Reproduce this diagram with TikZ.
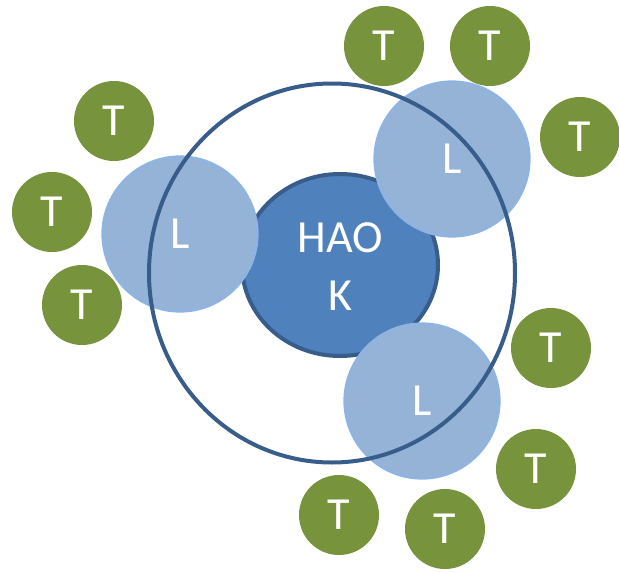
\documentclass[tikz,border=0pt]{standalone}
\usepackage{fontspec}
\setmainfont{Carlito}
\usetikzlibrary{shapes.geometric}
\definecolor{tgreen}{HTML}{77933C}
\definecolor{lfill}{HTML}{95B3D7}
\definecolor{ldraw}{HTML}{8DB4E2}
\definecolor{kfill}{HTML}{4F81BD}
\definecolor{kdraw}{HTML}{385D8A}
\tikzset{
  tball/.style={circle,fill=tgreen,minimum size=80pt,inner sep=0pt,text=white,font=\fontsize{46}{54}\selectfont},
  lball/.style={circle,fill=lfill,draw=ldraw,line width=2.2pt,minimum size=155pt,inner sep=0pt,text=white,font=\fontsize{46}{54}\selectfont},
  core/.style={ellipse,fill=kfill,draw=kdraw,line width=4pt,minimum width=196pt,minimum height=182pt,inner sep=0pt},
  ring/.style={ellipse,draw=kdraw,line width=4pt,minimum width=366pt,minimum height=379pt,inner sep=0pt},
  lbl/.style={text=white,align=center,font=\fontsize{46}{58}\selectfont}
}
\begin{document}
\begin{tikzpicture}[x=1pt,y=-1pt]
\useasboundingbox (0,0) rectangle (619,573);
\node[tball] (t1) at (384,46) {T};
\node[tball] (t2) at (490,46) {T};
\node[tball] (t3) at (580,137) {T};
\node[tball] (t4) at (114,121) {T};
\node[tball] (t5) at (52,212) {T};
\node[tball] (t6) at (82,305) {T};
\node[tball] (t7) at (551,348) {T};
\node[tball] (t8) at (536,469) {T};
\node[tball] (t9) at (339,515) {T};
\node[tball] (t10) at (445,529) {T};
\node[core] (k) at (340,265) {};
\node[lbl] (ktext) at (340,267) {HAO\\K};
\node[lball] (l1) at (180,234) {L};
\node[lball] (l2) at (452,159) {L};
\node[lball] (l3) at (422,401) {L};
\node[ring] (r) at (332,273) {};
\end{tikzpicture}
\end{document}
